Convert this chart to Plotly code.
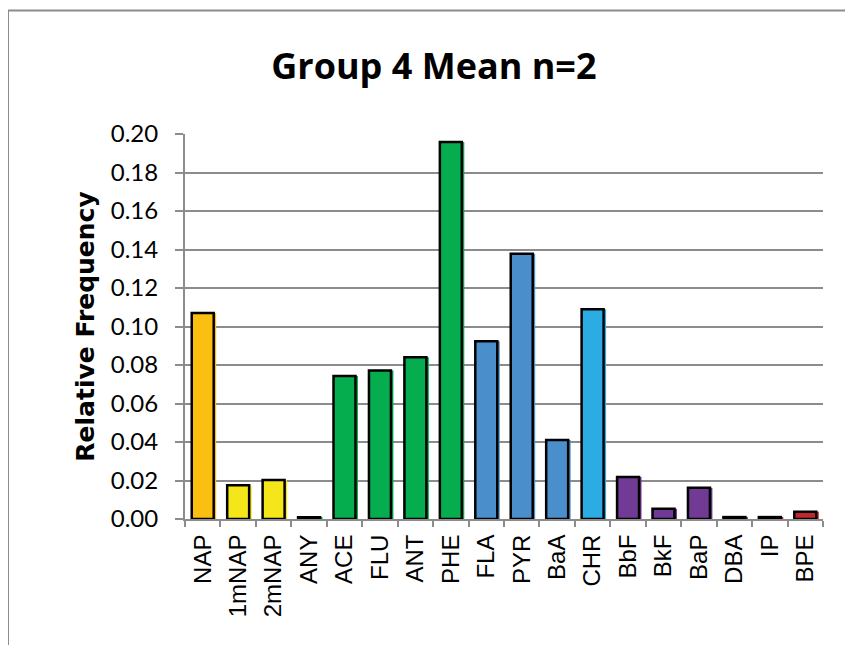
import plotly.graph_objects as go

# compounds on the x axis
compounds = ["NAP", "1mNAP", "2mNAP", "ANY", "ACE", "FLU", "ANT", "PHE", "FLA",
             "PYR", "BaA", "CHR", "BbF", "BkF", "BaP", "DBA", "IP", "BPE"]
rel_freq = [0.107, 0.0175, 0.0202, 0.0009, 0.0743, 0.0771, 0.0840, 0.1958, 0.0923,
            0.1378, 0.0411, 0.1089, 0.0218, 0.0053, 0.0162, 0.0010, 0.0010, 0.0038]
bar_colors = ["#FBBF12", "#F5E61A", "#F5E61A", "#06AD4F", "#06AD4F", "#06AD4F",
              "#06AD4F", "#06AD4F", "#4A8FCB", "#4A8FCB", "#4A8FCB", "#2BACE2",
              "#713A95", "#713A95", "#713A95", "#713A95", "#C1272D", "#C1272D"]
y_ticks = [0.00, 0.02, 0.04, 0.06, 0.08, 0.10, 0.12, 0.14, 0.16, 0.18, 0.20]

grey = "#8C8C8C"
bar_w = 0.62

fig = go.Figure()
# coloured drop shadow, slightly to the right of each bar
fig.add_trace(go.Bar(
    x=compounds,
    y=rel_freq,
    marker={"color": bar_colors, "line": {"width": 0}},
    width=bar_w,
    offset=-bar_w / 2 + 0.07,
    hoverinfo="skip",
))
fig.add_trace(go.Bar(
    x=compounds,
    y=rel_freq,
    marker={"color": bar_colors, "line": {"color": "black", "width": 2.5}},
    width=bar_w,
    offset=-bar_w / 2,
))

fig.update_layout(
    width=845,
    height=637,
    barmode="overlay",
    paper_bgcolor="white",
    plot_bgcolor="white",
    showlegend=False,
    margin={"l": 177, "r": 30, "t": 126, "b": 126},
    title={
        "text": "<b>Group 4 Mean n=2</b>",
        "font": {"family": "Open Sans", "size": 36, "color": "black"},
        "x": 0.504,
        "xref": "container",
        "xanchor": "center",
        "y": 0.909,
        "yref": "container",
        "yanchor": "middle",
    },
    xaxis={
        "tickangle": -90,
        "tickfont": {"family": "Liberation Sans", "size": 24, "color": "black"},
        "showline": True,
        "linecolor": grey,
        "linewidth": 2,
        "ticks": "outside",
        "tickson": "boundaries",
        "ticklen": 6,
        "tickwidth": 2,
        "tickcolor": grey,
        "showgrid": False,
        "ticklabelstandoff": 4,
    },
    yaxis={
        "title": {
            "text": "<b>Relative Frequency</b>",
            "font": {"family": "DejaVu Sans", "size": 25, "color": "black"},
            "standoff": 9,
        },
        "range": [0, 0.2],
        "tickvals": y_ticks,
        "tickformat": ".2f",
        "tickfont": {"family": "Lato", "size": 24, "color": "black"},
        "showline": True,
        "linecolor": grey,
        "linewidth": 2,
        "ticks": "outside",
        "ticklen": 8,
        "tickwidth": 2,
        "tickcolor": grey,
        "showgrid": True,
        "gridcolor": grey,
        "gridwidth": 2,
        "zeroline": False,
        "ticklabelstandoff": 12,
    },
    shapes=[
        {
            "type": "rect",
            "xref": "paper",
            "yref": "paper",
            "x0": -0.2774,
            "x1": 2,
            "y0": -1,
            "y1": 1.3208,
            "line": {"color": grey, "width": 2},
            "layer": "below",
        }
    ],
)

fig.write_html("out.html")
